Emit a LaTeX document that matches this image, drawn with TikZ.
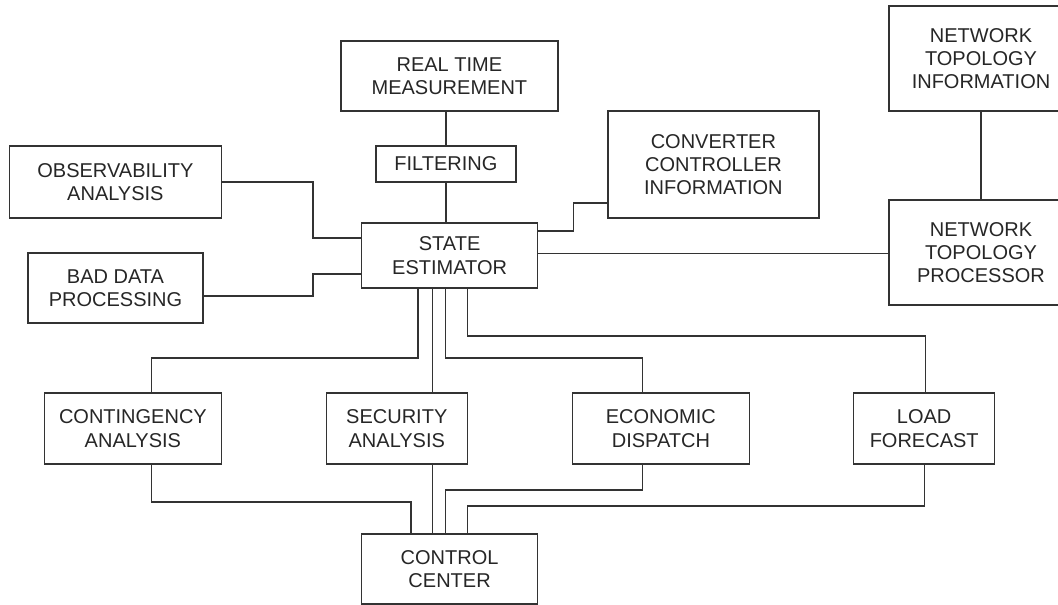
\documentclass[tikz,border=0pt]{standalone}
\usepackage{fontspec}
\setmainfont{Liberation Sans}
\tikzstyle{block}=[draw=black!80, line width=1.3pt, inner sep=0pt, align=center, text=black!85, font=\fontsize{20pt}{23.3pt}\selectfont]
\tikzstyle{wire}=[draw=black!80, line width=1.3pt]

\begin{document}
\begin{tikzpicture}[x=1pt, y=-1pt]
      \useasboundingbox (0, 0) rectangle (1058, 605);
      \node[block, minimum width=217pt, minimum height=70pt] (rtm) at (449.4, 76) {REAL TIME\\MEASUREMENT};
      \node[block, minimum width=140pt, minimum height=36pt] (filt) at (445.9, 164) {FILTERING};
      \node[block, minimum width=212pt, minimum height=72pt] (obs) at (115.4, 182) {OBSERVABILITY\\ANALYSIS};
      \node[block, minimum width=176pt, minimum height=65pt] (se) at (449.6, 255.5) {STATE\\ESTIMATOR};
      \node[block, minimum width=175pt, minimum height=70pt] (bad) at (115.5, 288) {BAD DATA\\PROCESSING};
      \node[block, minimum width=211pt, minimum height=107pt] (conv) at (713.4, 164.5) {CONVERTER\\CONTROLLER\\INFORMATION};
      \node[block, minimum width=184pt, minimum height=105pt] (nti) at (981, 58.5) {NETWORK\\TOPOLOGY\\INFORMATION};
      \node[block, minimum width=184pt, minimum height=105pt] (ntp) at (981, 252.5) {NETWORK\\TOPOLOGY\\PROCESSOR};
      \node[block, minimum width=177pt, minimum height=71pt] (cont) at (132.9, 428.5) {CONTINGENCY\\ANALYSIS};
      \node[block, minimum width=141pt, minimum height=71pt] (sec) at (396.8, 428.5) {SECURITY\\ANALYSIS};
      \node[block, minimum width=177pt, minimum height=71pt] (econ) at (660.9, 428.5) {ECONOMIC\\DISPATCH};
      \node[block, minimum width=141pt, minimum height=71pt] (load) at (924.2, 428.5) {LOAD\\FORECAST};
      \node[block, minimum width=176pt, minimum height=70pt] (cc) at (449.6, 569) {CONTROL\\CENTER};
      % measurement chain
      \draw[wire] (filt.north) to (filt.north |- rtm.south);
      \draw[wire] (filt.south) to (filt.south |- se.north);
      % inputs on the left
      \draw[wire] (obs.east) -| (313, 238) to (se.west |- 313, 238);
      \draw[wire] (bad.east |- 0, 296) -| (313, 274) to (se.west |- 313, 274);
      % inputs on the right
      \draw[wire] (se.east |- 0, 231) -| (573.5, 203) to (conv.west |- 0, 203);
      \draw[wire] (ntp.west |- 0, 253.5) to (se.east |- 0, 253.5);
      \draw[wire] (nti.south) to (ntp.north);
      % outputs of the estimator
      \draw[wire] (se.south -| 418, 0) |- (151.4, 358) to (cont.north -| 151.4, 0);
      \draw[wire] (se.south -| 432.5, 0) to (sec.north -| 432.5, 0);
      \draw[wire] (se.south -| 445.7, 0) |- (642.8, 358) to (econ.north -| 642.8, 0);
      \draw[wire] (se.south -| 467.5, 0) |- (925.6, 336) to (load.north -| 925.6, 0);
      % into the control center
      \draw[wire] (cont.south -| 151.4, 0) |- (411, 502) to (cc.north -| 411, 0);
      \draw[wire] (sec.south -| 432.5, 0) to (cc.north -| 432.5, 0);
      \draw[wire] (econ.south -| 642.8, 0) |- (445.7, 490) to (cc.north -| 445.7, 0);
      \draw[wire] (load.south -| 924.2, 0) |- (467.5, 506) to (cc.north -| 467.5, 0);
    \end{tikzpicture}
\end{document}
